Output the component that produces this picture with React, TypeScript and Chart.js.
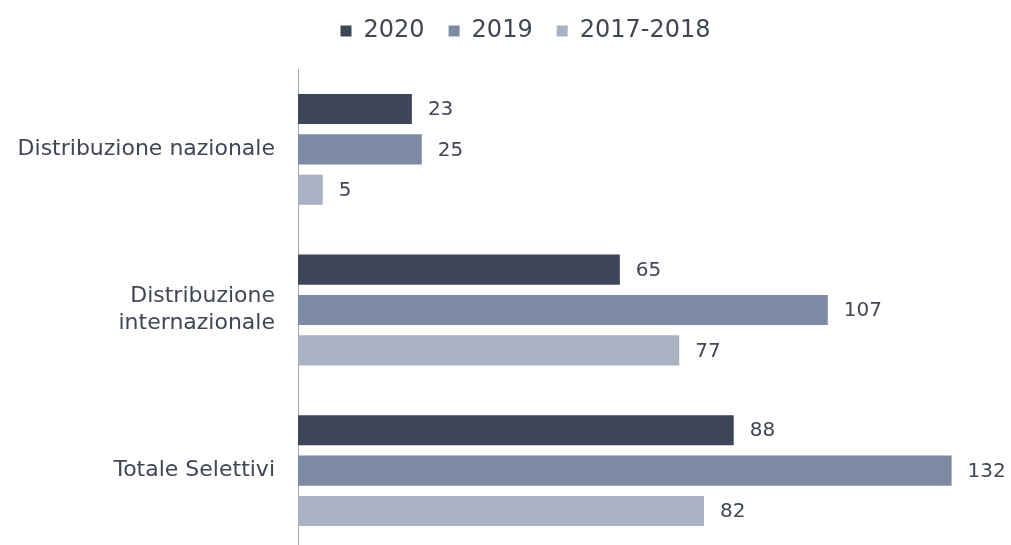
import React, { useEffect, useRef } from "react";
import { Chart, registerables } from "chart.js";

Chart.register(...registerables);

const categories: (string | string[])[] = [
  "Distribuzione nazionale",
  ["Distribuzione", "internazionale"],
  "Totale Selettivi",
];
const seriesNames = ["2020", "2019", "2017-2018"];
const values2020 = [23, 65, 88];
const values2019 = [25, 107, 132];
const values2017_2018 = [5, 77, 82];
const seriesColors = ["#3D4558", "#7D8AA3", "#A9B2C3"];
const textColor = "#404656";
const fontFamily = "'DejaVu Sans', sans-serif";

const valueLabels = {
  id: "valueLabels",
  afterDatasetsDraw(chart: any) {
    const ctx = chart.ctx;
    ctx.save();
    ctx.font = `20px ${fontFamily}`;
    ctx.fillStyle = textColor;
    ctx.textAlign = "left";
    ctx.textBaseline = "middle";
    chart.data.datasets.forEach((ds: any, i: number) => {
      const meta = chart.getDatasetMeta(i);
      meta.data.forEach((bar: any, j: number) => {
        ctx.fillText(String(ds.data[j]), bar.x + 16, bar.y + 1);
      });
    });
    ctx.restore();
  },
};

export default function App() {
  const ref = useRef<HTMLCanvasElement>(null);
  useEffect(() => {
    if (!ref.current) return;
    const data = [values2020, values2019, values2017_2018];
    const chart = new Chart(ref.current, {
      type: "bar",
      data: {
        labels: categories,
        datasets: seriesNames.map((name, i) => ({
          label: name,
          data: data[i],
          backgroundColor: seriesColors[i],
          borderWidth: 0,
          categoryPercentage: 0.754,
          barPercentage: 0.745,
        })),
      },
      options: {
        indexAxis: "y",
        animation: false,
        responsive: false,
        layout: { padding: { left: 0, right: -40, top: -5, bottom: 0 } },
        plugins: {
          legend: {
            position: "top",
            labels: {
              color: textColor,
              font: { family: fontFamily, size: 24 },
              boxWidth: 11,
              boxHeight: 11,
              padding: 24,
            },
          },
          subtitle: {
            display: true,
            text: "",
            weight: 500,
            padding: 0,
            font: { size: 10, lineHeight: 1.6 },
          },
          tooltip: { enabled: false },
        },
        scales: {
          x: { display: false, min: 0, max: 144 },
          y: {
            grid: { display: false, drawTicks: false },
            border: { display: true, color: "#A3A7B2", width: 1 },
            ticks: {
              color: textColor,
              font: { family: fontFamily, size: 22, lineHeight: 1.22 },
              padding: 23,
            },
            afterFit(scale: any) {
              scale.width = 298;
              scale.paddingTop = 0;
              scale.paddingBottom = 0;
            },
          },
        },
      },
      plugins: [valueLabels],
    } as any);
    return () => chart.destroy();
  }, []);
  return (
    <div
      style={{
        position: "fixed",
        left: 0,
        top: 0,
        width: 1011,
        height: 545,
        overflow: "hidden",
        background: "#fff",
      }}
    >
      <canvas ref={ref} width={1011} height={551} style={{ display: "block" }} />
    </div>
  );
}
